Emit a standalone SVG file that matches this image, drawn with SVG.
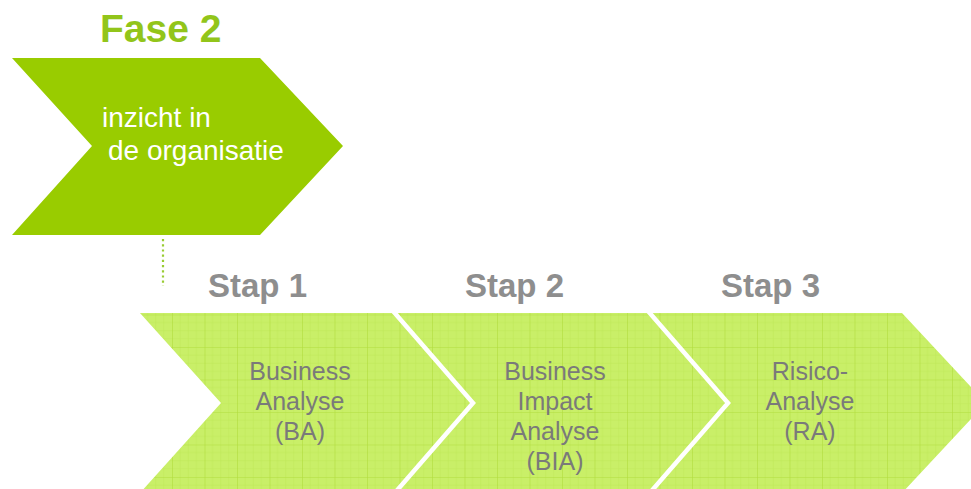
<svg xmlns="http://www.w3.org/2000/svg" width="971" height="489" viewBox="0 0 971 489">
  <defs>
    <pattern id="grid" patternUnits="userSpaceOnUse" x="172" y="347" width="32.5" height="32.5">
      <rect width="32.5" height="32.5" fill="#c9ef68"/>
      <path d="M8.1 0V32.5M16.25 0V32.5M24.4 0V32.5M0 8.1H32.5M0 16.25H32.5M0 24.4H32.5" stroke="#bfe75a" stroke-width="0.6" fill="none"/>
      <path d="M0 0V32.5M0 0H32.5" stroke="#b2dd3e" stroke-width="1.2" fill="none"/>
    </pattern>
    <style>
      .title { font-family: "Liberation Sans", Arial, sans-serif; font-weight: bold; font-size: 39px; fill: #92c51a; }
      .phase { font-family: "Liberation Sans", Arial, sans-serif; font-size: 28px; fill: #ffffff; }
      .step { font-family: "Liberation Sans", Arial, sans-serif; font-weight: bold; font-size: 33px; fill: #8e8e8e; }
      .lbl { font-family: "Liberation Sans", Arial, sans-serif; font-size: 25px; fill: #7a7a7a; text-anchor: middle; }
      .chev { fill: url(#grid); }
      .sep { fill: none; stroke: #ffffff; stroke-width: 4.5; stroke-linejoin: miter; }
    </style>
  </defs>
  <rect width="971" height="489" fill="#ffffff"/>

  <g id="fase2">
    <text class="title" x="100" y="42">Fase 2</text>
    <polygon points="12,58 260,58 343,146 260,235 12,235 92,146" fill="#99cc00"/>
    <text class="phase" x="102" y="127">inzicht in</text>
    <text class="phase" x="108" y="160">de organisatie</text>
  </g>

  <g id="connectors">
    <line x1="163" y1="239" x2="163" y2="286" stroke="#99cc33" stroke-width="2.2" stroke-dasharray="2.2 3"/>
  </g>

  <g id="stap1">
    <text class="step" x="208" y="297">Stap 1</text>
    <polygon class="chev" points="140,313 393,313 473,403 393,493 140,493 221,403"/>
    <text class="lbl" x="300" y="380">Business</text>
    <text class="lbl" x="300" y="410">Analyse</text>
    <text class="lbl" x="300" y="440">(BA)</text>
  </g>

  <g id="stap2">
    <text class="step" x="465" y="297">Stap 2</text>
    <polygon class="chev" points="393,313 648,313 728,403 648,493 393,493 473,403"/>
    <polyline class="sep" points="393,311 473,403 393,495"/>
    <text class="lbl" x="555" y="380">Business</text>
    <text class="lbl" x="555" y="410">Impact</text>
    <text class="lbl" x="555" y="440">Analyse</text>
    <text class="lbl" x="555" y="470">(BIA)</text>
  </g>

  <g id="stap3">
    <text class="step" x="721" y="297">Stap 3</text>
    <polygon class="chev" points="648,313 902,313 986,403 902,493 648,493 728,403"/>
    <polyline class="sep" points="648,311 728,403 648,495"/>
    <text class="lbl" x="810" y="380">Risico-</text>
    <text class="lbl" x="810" y="410">Analyse</text>
    <text class="lbl" x="810" y="440">(RA)</text>
  </g>
</svg>
